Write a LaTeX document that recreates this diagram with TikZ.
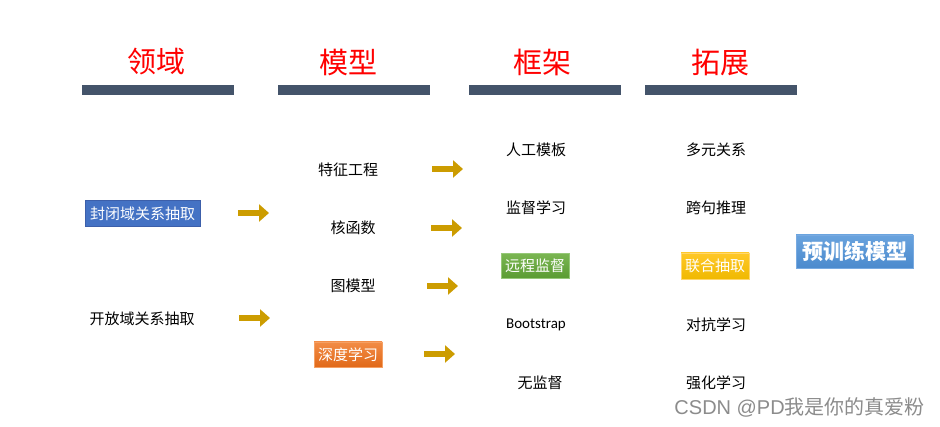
\documentclass[tikz,border=0pt]{standalone}
\usepackage{fontspec}
\setmainfont{Noto Sans CJK SC}
\newfontfamily\latinfont{Carlito}
\newfontfamily\wmfont{Liberation Sans}
\usetikzlibrary{arrows.meta}
\definecolor{barcol}{HTML}{44546A}
\definecolor{gold}{HTML}{CC9C00}
\definecolor{titlered}{HTML}{FF0000}
\tikzset{
  title/.style={text=titlered,font=\fontsize{29pt}{32pt}\selectfont,inner sep=0pt},
  hbar/.style={fill=barcol,draw=none},
  item/.style={text=black,font=\fontsize{15pt}{17pt}\selectfont,inner sep=0pt},
  cbox/.style={text=white,font=\fontsize{15pt}{17pt}\selectfont,inner sep=0pt,minimum height=26pt},
  goldarrow/.style={draw=gold,line width=6pt,-{Triangle[length=10pt,width=17pt]}},
}
\begin{document}
\begin{tikzpicture}[x=1pt,y=-1pt]
\useasboundingbox (0,0) rectangle (940,427);
\fill[white] (0,0) rectangle (940,427);
% titles
\node[title] (t1) at (156,62) {领域};
\node[title] (t2) at (348,62) {模型};
\node[title] (t3) at (542,62) {框架};
\node[title] (t4) at (720,62) {拓展};
% bars
\fill[hbar] (82,85) rectangle (234,95);
\fill[hbar] (278,85) rectangle (430,95);
\fill[hbar] (469,85) rectangle (621,95);
\fill[hbar] (645,85) rectangle (797,95);
% column 1
\node[cbox,minimum width=115pt,draw={rgb,255:red,60;green,95;blue,170},fill={rgb,255:red,68;green,114;blue,196}] (c1a) at (142.5,213.5) {封闭域关系抽取};
\node[item] (c1b) at (142,319) {开放域关系抽取};
% column 2
\node[item] (c2a) at (348,170) {特征工程};
\node[item] (c2b) at (353,228) {核函数};
\node[item] (c2c) at (353,286) {图模型};
\node[cbox,minimum width=68pt,minimum height=25pt,draw={rgb,255:red,245;green,160;blue,100},
  top color={rgb,255:red,242;green,140;blue,70},bottom color={rgb,255:red,225;green,105;blue,25}] (c2d) at (348,354.5) {深度学习};
% column 3
\node[item] (c3a) at (536,150) {人工模板};
\node[item] (c3b) at (536,208) {监督学习};
\node[cbox,minimum width=68pt,minimum height=25pt,draw={rgb,255:red,150;green,200;blue,120},
  top color={rgb,255:red,122;green,182;blue,82},bottom color={rgb,255:red,90;green,155;blue,50}] (c3c) at (535,266) {远程监督};
\node[item,font=\latinfont\fontsize{15pt}{17pt}\selectfont] (c3d) at (536,325) {Bootstrap};
\node[item] (c3e) at (540,383) {无监督};
% column 4
\node[item] (c4a) at (716,150) {多元关系};
\node[item] (c4b) at (716,208) {跨句推理};
\node[cbox,minimum width=68pt,minimum height=26pt,draw={rgb,255:red,255;green,215;blue,110},
  top color={rgb,255:red,255;green,200;blue,40},bottom color={rgb,255:red,240;green,185;blue,0}] (c4c) at (715,266) {联合抽取};
\node[item] (c4d) at (716,325) {对抗学习};
\node[item] (c4e) at (716,383) {强化学习};
% pretrained
\node[cbox,minimum width=117pt,minimum height=33pt,font=\bfseries\fontsize{21pt}{23pt}\selectfont,
  draw={rgb,255:red,120;green,170;blue,225},top color={rgb,255:red,105;green,163;blue,222},bottom color={rgb,255:red,75;green,138;blue,205}] (pt) at (854.5,251.5) {预训练模型};
% arrows
\coordinate (a1s) at (238,213); \coordinate (a1e) at (269,213);
\coordinate (a2s) at (239,318); \coordinate (a2e) at (270,318);
\coordinate (a3s) at (432,169); \coordinate (a3e) at (463,169);
\coordinate (a4s) at (431,228); \coordinate (a4e) at (462,228);
\coordinate (a5s) at (427,286); \coordinate (a5e) at (458,286);
\coordinate (a6s) at (424,354); \coordinate (a6e) at (455,354);
\foreach \s/\e in {a1s/a1e,a2s/a2e,a3s/a3e,a4s/a4e,a5s/a5e,a6s/a6e}
  \draw[goldarrow] (\s) -- (\e);
% watermark
\node[inner sep=0pt,text=black!45,font=\fontsize{20pt}{22pt}\selectfont,anchor=east] (wm) at (925,407) {{\wmfont CSDN @PD}我是你的真爱粉};
\end{tikzpicture}
\end{document}
